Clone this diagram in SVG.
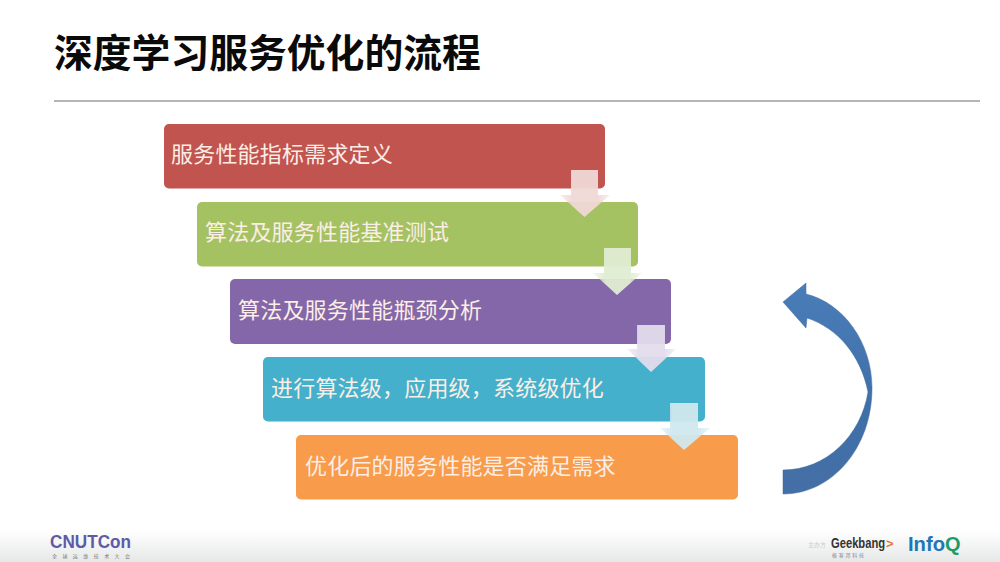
<svg xmlns="http://www.w3.org/2000/svg" width="1000" height="562" viewBox="0 0 1000 562">
<style>
text{font-family:"Noto Sans CJK SC","Liberation Sans",sans-serif}
.t{font-size:22px;letter-spacing:.2px;fill:#fbeee6;font-family:"Noto Sans CJK SC",sans-serif}
.title{font-size:38.800px;font-weight:700;fill:#0a0a0a}
.l{font-family:"Liberation Sans",sans-serif;font-weight:700}
</style>
<defs>
<linearGradient id="foot" x1="0" y1="0" x2="0" y2="1"><stop offset="0" stop-color="#fff"/><stop offset="1" stop-color="#e6e8e8"/></linearGradient>
<linearGradient id="blue" x1="0" y1="0" x2="0" y2="1"><stop offset="0" stop-color="#4a7db9"/><stop offset=".6" stop-color="#3f6fa8"/><stop offset="1" stop-color="#456fa6"/></linearGradient>
<linearGradient id="a1"><stop offset="0" stop-color="#f0d8d6" stop-opacity=".4"/><stop offset=".25" stop-color="#f0d8d6" stop-opacity=".95"/><stop offset=".75" stop-color="#f0d8d6" stop-opacity=".95"/><stop offset="1" stop-color="#f0d8d6" stop-opacity=".4"/></linearGradient>
<linearGradient id="a2"><stop offset="0" stop-color="#e0ecd2" stop-opacity=".4"/><stop offset=".25" stop-color="#e0ecd2" stop-opacity=".95"/><stop offset=".75" stop-color="#e0ecd2" stop-opacity=".95"/><stop offset="1" stop-color="#e0ecd2" stop-opacity=".4"/></linearGradient>
<linearGradient id="a3"><stop offset="0" stop-color="#e2dcec" stop-opacity=".4"/><stop offset=".25" stop-color="#e2dcec" stop-opacity=".95"/><stop offset=".75" stop-color="#e2dcec" stop-opacity=".95"/><stop offset="1" stop-color="#e2dcec" stop-opacity=".4"/></linearGradient>
<linearGradient id="a4"><stop offset="0" stop-color="#cfe8ee" stop-opacity=".4"/><stop offset=".25" stop-color="#cfe8ee" stop-opacity=".95"/><stop offset=".75" stop-color="#cfe8ee" stop-opacity=".95"/><stop offset="1" stop-color="#cfe8ee" stop-opacity=".4"/></linearGradient>
</defs>
<rect width="1000" height="562" fill="#fff"/>
<rect y="530" width="1000" height="32" fill="url(#foot)"/>
<g id="title"><text class="title" x="54" y="67">深度学习服务优化的流程</text>
<line x1="54" y1="101" x2="980" y2="101" stroke="#444" stroke-width=".8"/></g>
<g id="n1"><rect x="164" y="124" width="441" height="64.500" rx="5" fill="#c1544f"/><text class="t" x="171" y="162">服务性能指标需求定义</text></g>
<g id="n2"><rect x="197" y="202" width="441" height="64.500" rx="5" fill="#a5c263"/><text class="t" x="205" y="240">算法及服务性能基准测试</text></g>
<g id="n3"><rect x="230" y="279" width="441" height="65" rx="5" fill="#8467a8"/><text class="t" x="238" y="318">算法及服务性能瓶颈分析</text></g>
<g id="n4"><rect x="263" y="357" width="442" height="64.500" rx="5" fill="#45b0cb"/><text class="t" x="271" y="396">进行算法级，应用级，系统级优化</text></g>
<g id="n5"><rect x="296" y="435" width="442" height="64.500" rx="5" fill="#f89b4b"/><text class="t" x="305" y="474">优化后的服务性能是否满足需求</text></g>
<g id="connectors">
<path d="M571 170H598V195H610L584.500 217L560 195H571Z" fill="url(#a1)"/>
<path d="M604 248H631V273H642L617 295L593 273H604Z" fill="url(#a2)"/>
<path d="M637 325H665V349H676L651 372L627 349H637Z" fill="url(#a3)"/>
<path d="M670 403H698V428H710L684 450L660 428H670Z" fill="url(#a4)"/>
<path id="loop" d="M783 302L806 283V294C843 303 872 342 872 388C872 448 832 494 783 494V470C826 470 861 436 868 392C861 356 838 328 807 318L806 328Z" fill="url(#blue)" stroke="#3d6a9c" stroke-width=".5"/>
</g>
<g id="logo-cnutcon"><text class="l" x="50" y="547.500" font-size="19" fill="#5f5aa8" textLength="81" lengthAdjust="spacingAndGlyphs">CNUTCon</text>
<text x="52" y="558" font-size="5" fill="#777" textLength="78">全球运维技术大会</text></g>
<g id="logo-geekbang"><text x="808" y="547" font-size="6" fill="#ccc">主办方</text>
<text class="l" transform="translate(831 548) scale(.8 1)" x="0" y="0" font-size="14" fill="#333">Geekbang</text>
<text class="l" x="886" y="548" font-size="13" fill="#e8743b">&gt;</text>
<text x="832" y="557" font-size="5" fill="#888" textLength="32">极客邦科技</text></g>
<g id="logo-infoq"><text class="l" x="908" y="551" font-size="20" fill="#1d76b8" textLength="37" lengthAdjust="spacingAndGlyphs">Info</text>
<text class="l" x="945" y="551" font-size="20" fill="#1f9a6b">Q</text></g>
</svg>
